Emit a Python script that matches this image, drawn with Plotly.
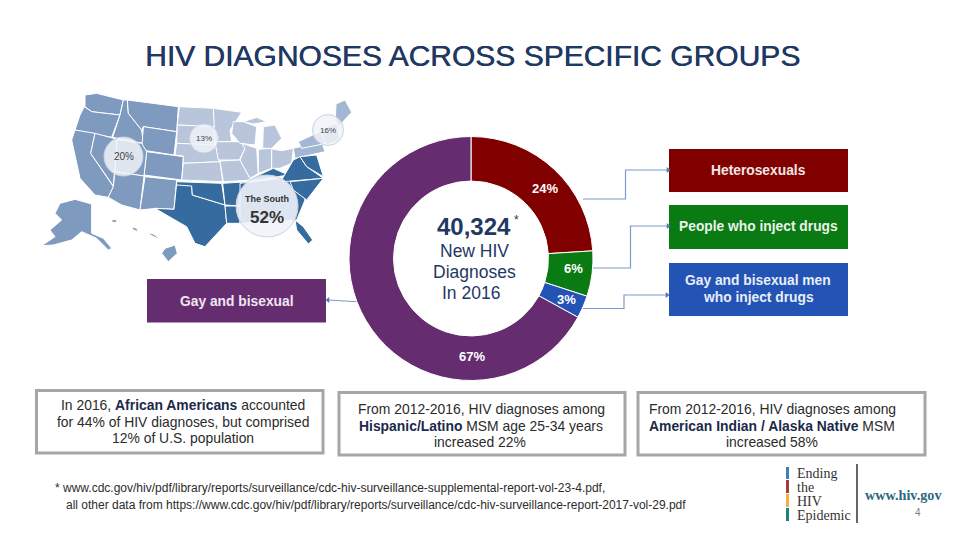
import plotly.graph_objects as go

# ---- chart data ----
slice_names = ["Heterosexuals", "People who inject drugs", "Gay and bisexual men who inject drugs", "Gay and bisexual"]
slice_values = [24, 6, 3, 67]
slice_labels = ["24%", "6%", "3%", "67%"]
slice_colors = ["#800000", "#0A7A12", "#2354B5", "#652D70"]
region_labels = ["20%", "13%", "16%", "52%"]

NAVY = "#1F3864"
SANS = "Liberation Sans, Arial, sans-serif"
SERIF = "Liberation Serif, serif"
WEST, MID, NE, SOUTH = "#7F9ABF", "#B9C5DB", "#A3B6D3", "#356B9E"

# map outlines, traced in a 3x crop whose origin is (40, 80)
west = [
 [(135,45),(170,40),(250,60),(240,105),(155,95),(135,80)],
 [(133,80),(155,95),(240,105),(215,172),(105,150),(120,105)],
 [(105,150),(165,160),(152,220),(220,320),(205,352),(165,345),(120,295),(95,180)],
 [(165,160),(215,172),(232,178),(220,318),(152,220)],
 [(250,60),(262,60),(265,100),(305,150),(310,190),(218,172),(240,105)],
 [(262,60),(415,80),(410,155),(310,140),(305,150),(265,100)],
 [(310,140),(410,155),(402,225),(305,210)],
 [(320,215),(430,230),(425,300),(312,285)],
 [(232,178),(305,190),(320,215),(312,288),(225,275)],
 [(225,275),(312,288),(300,390),(245,375),(205,352),(220,320)],
 [(315,290),(410,300),(402,388),(350,385),(300,390)],
 [(60,370),(105,358),(155,372),(155,460),(190,475),(215,505),(205,510),(170,475),(125,455),(95,480),(40,495),(5,497),(45,470),(30,450),(65,420),(45,400)],
 [(375,505),(405,495),(412,520),(385,545),(365,520)],
 [(275,440),(290,445),(295,455),(280,450)],
 [(215,420),(230,418),(228,428),(215,426)],
 [(318,458),(340,462),(362,478),(345,472)],
]
mid = [
 [(418,80),(520,85),(525,140),(412,135)],
 [(412,135),(525,140),(525,195),(410,190)],
 [(410,190),(525,195),(540,245),(430,250),(430,228),(405,225)],
 [(430,250),(540,245),(548,305),(425,300)],
 [(520,85),(605,97),(570,150),(575,185),(525,185)],
 [(525,185),(605,185),(615,205),(598,240),(535,240)],
 [(540,243),(600,240),(630,295),(640,300),(550,305)],
 [(580,125),(610,125),(650,140),(645,195),(600,190),(575,160)],
 [(605,190),(650,205),(655,280),(630,295),(600,240),(615,205)],
 [(655,208),(695,205),(695,265),(655,280)],
 [(670,140),(705,135),(725,175),(695,205),(668,205)],
 [(610,125),(650,112),(680,125),(640,132)],
 [(695,207),(725,212),(760,205),(755,250),(720,265),(695,265)],
]
northeast = [
 [(760,205),(845,185),(855,215),(765,235)],
 [(775,185),(840,155),(860,190),(785,205)],
 [(840,150),(890,130),(900,180),(860,195)],
 [(888,72),(915,60),(935,97),(905,130),(895,140),(886,120)],
]
south = [
 [(410,310),(455,315),(457,345),(555,375),(560,430),(495,500),(465,490),(440,440),(405,420),(345,385),(402,388)],
 [(410,305),(545,310),(555,375),(457,345),(455,318),(410,315)],
 [(548,310),(625,305),(605,378),(555,375)],
 [(555,378),(605,378),(600,430),(560,430)],
 [(600,310),(770,290),(795,360),(770,420),(600,430)],
 [(765,420),(790,440),(818,480),(805,492),(770,450)],
 [(625,300),(700,265),(745,285),(650,300)],
 [(725,300),(760,240),(780,230),(800,260),(850,295),(730,305)],
 [(780,230),(830,225),(850,290),(800,260)],
 [(750,305),(850,295),(800,360),(760,330)],
]
# ---------------------

def crop(poly):
    xs = [40 + p[0] / 3 for p in poly] + [40 + poly[0][0] / 3]
    ys = [80 + p[1] / 3 for p in poly] + [80 + poly[0][1] / 3]
    return xs, ys

fig = go.Figure()

for group, colour in ((west, WEST), (mid, MID), (northeast, NE), (south, SOUTH)):
    for poly in group:
        xs, ys = crop(poly)
        fig.add_trace(go.Scatter(x=xs, y=ys, mode="lines", fill="toself", fillcolor=colour,
                                 line=dict(color="white", width=1), hoverinfo="skip", showlegend=False))

# connectors
connectors = [
    ([583, 625.5, 625.5, 668], [199, 199, 170, 170]),
    ([593, 630.5, 630.5, 668], [268, 268, 226, 226]),
    ([583, 624, 624, 667], [308.5, 308.5, 295, 295]),
    ([362, 328], [302, 300]),
]
for i, (xs, ys) in enumerate(connectors):
    fig.add_trace(go.Scatter(x=xs, y=ys, mode="lines", line=dict(color="#7C9BCB", width=1.2),
                             hoverinfo="skip", showlegend=False))
    fig.add_trace(go.Scatter(x=[xs[-1]], y=[ys[-1]], mode="markers",
                             marker=dict(symbol="triangle-left" if i == 3 else "triangle-right", size=5, color="#4F78B8"),
                             hoverinfo="skip", showlegend=False))

# donut
fig.add_trace(go.Pie(values=slice_values, labels=slice_names, sort=False, direction="clockwise", rotation=0,
                     hole=0.635, textinfo="none", hoverinfo="label+percent", showlegend=False,
                     marker=dict(colors=slice_colors, line=dict(color="white", width=1)),
                     domain=dict(x=[349 / 960, 593 / 960], y=[1 - 380.5 / 540, 1 - 136.5 / 540])))

shapes = []
def rect(x0, y0, x1, y1, fill, line=None, w=0):
    shapes.append(dict(type="rect", xref="x", yref="y", x0=x0, y0=y0, x1=x1, y1=y1, fillcolor=fill,
                       line=dict(color=line or fill, width=w), layer="below"))
def vline(x, y0, y1, colour, w):
    shapes.append(dict(type="line", xref="x", yref="y", x0=x, x1=x, y0=y0, y1=y1, line=dict(color=colour, width=w)))
def circle(cx, cy, r, op=0.85):
    shapes.append(dict(type="circle", xref="x", yref="y", x0=cx - r, x1=cx + r, y0=cy - r, y1=cy + r,
                       fillcolor="rgba(240,243,248,%s)" % op, line=dict(color="#C9D3E3", width=1), layer="above"))

rect(669, 149, 848, 192, slice_colors[0])
rect(669, 205, 848, 249, slice_colors[1])
rect(669, 263, 848, 316, slice_colors[2])
rect(147, 279, 326, 322.5, slice_colors[3])
rect(36.5, 390.5, 323, 453, "white", "#A6A6A6", 3)
rect(339, 392.5, 625, 455, "white", "#A6A6A6", 3)
rect(638, 392.5, 925, 455, "white", "#A6A6A6", 3)
circle(123.5, 156.5, 19.5)
circle(204, 138.5, 14.5)
circle(328, 130, 15.5)
circle(267, 206, 31, 0.9)

# logo bars and divider
vline(787.5, 467, 479, "#3F7FB5", 3)
vline(787.5, 480, 493, "#A93A3A", 3)
vline(787.5, 494, 507, "#EDB04A", 3)
vline(787.5, 508, 521, "#1D7F80", 3)
vline(857, 464, 523, "#333333", 1.5)

notes = []
def txt(x, y, s, size, colour="#2B2B2B", anchor="center", family=SANS, shadow=None):
    font = dict(size=size, color=colour, family=family)
    if shadow:
        font["shadow"] = shadow
    notes.append(dict(x=x, y=y, xref="x", yref="y", text=s, showarrow=False, xanchor=anchor, yanchor="middle",
                      font=font))

txt(472, 55, "HIV DIAGNOSES ACROSS SPECIFIC GROUPS", 30, NAVY, shadow="0.5px 0 0 #1F3864")

# map labels
txt(123.5, 156.5, region_labels[0], 10, "#444444")
txt(204, 138.5, region_labels[1], 8, "#444444")
txt(328, 130, region_labels[2], 8, "#444444")
txt(267, 199, "<b>The South</b>", 9, "#333333")
txt(267, 217, "<b>%s</b>" % region_labels[3], 17, "#333333")

# pie labels
txt(545, 188.5, "<b>%s</b>" % slice_labels[0], 13, "white")
txt(573, 268, "<b>%s</b>" % slice_labels[1], 13, "white")
txt(566, 299.5, "<b>%s</b>" % slice_labels[2], 13, "white")
txt(472, 356, "<b>%s</b>" % slice_labels[3], 13, "white")

# centre text
txt(473.5, 226, "<b>40,324</b>", 24, NAVY)
txt(516, 220, "*", 12, "#333333")
txt(474, 250.5, "New HIV", 17.5, NAVY)
txt(474, 272, "Diagnoses", 17.5, NAVY)
txt(471, 293, "In 2016", 17.5, NAVY)

# category boxes
txt(758, 170.5, "<b>%s</b>" % slice_names[0], 13.8, "#F2E6E6")
txt(758, 226.5, "<b>%s</b>" % slice_names[1], 13.8, "#EAF3EA")
txt(758, 280, "<b>Gay and bisexual men</b>", 13.8, "#E8EEF8")
txt(758, 297, "<b>who inject drugs</b>", 13.8, "#E8EEF8")
txt(237, 301.5, "<b>%s</b>" % slice_names[3], 13.8, "#EFE6F0")

# callouts
B = "<b><span style='color:#1B2A4A'>%s</span></b>"
txt(183, 405, "In 2016, " + B % "African Americans" + " accounted", 13.9)
txt(183, 421.5, "for 44% of HIV diagnoses, but comprised", 13.9)
txt(183, 438, "12% of U.S. population", 13.9)
txt(481, 409, "From 2012-2016, HIV diagnoses among", 13.9)
txt(481, 425.5, B % "Hispanic/Latino" + " MSM age 25-34 years", 13.9)
txt(480, 442, "increased 22%", 13.9)
txt(772, 409, "From 2012-2016, HIV diagnoses among", 13.9)
txt(772, 425.5, B % "American Indian / Alaska Native" + " MSM", 13.9)
txt(772, 442, "increased 58%", 13.9)

# footnote
txt(53, 488, "* www.cdc.gov/hiv/pdf/library/reports/surveillance/cdc-hiv-surveillance-supplemental-report-vol-23-4.pdf,", 12, anchor="left")
txt(64, 505, "all other data from https://www.cdc.gov/hiv/pdf/library/reports/surveillance/cdc-hiv-surveillance-report-2017-vol-29.pdf", 12, anchor="left")

# logo
for y, s in ((473, "Ending"), (487, "the"), (501, "HIV"), (515, "Epidemic")):
    txt(794.5, y, s, 14, "#333333", anchor="left", family=SERIF)
txt(903, 494.5, "<b>www.hiv.gov</b>", 14.2, "#2C6A80", family=SERIF)
txt(918, 512, "4", 10, "#808080")

fig.update_layout(
    width=960, height=540, autosize=False, margin=dict(l=0, r=0, t=0, b=0),
    paper_bgcolor="white", plot_bgcolor="white", showlegend=False,
    xaxis=dict(range=[0, 960], visible=False, fixedrange=True),
    yaxis=dict(range=[540, 0], visible=False, fixedrange=True),
    shapes=shapes, annotations=notes,
)
fig.write_html("out.html", config=dict(displayModeBar=False),
               post_script="document.body.style.margin='0';document.body.style.overflow='hidden';")
